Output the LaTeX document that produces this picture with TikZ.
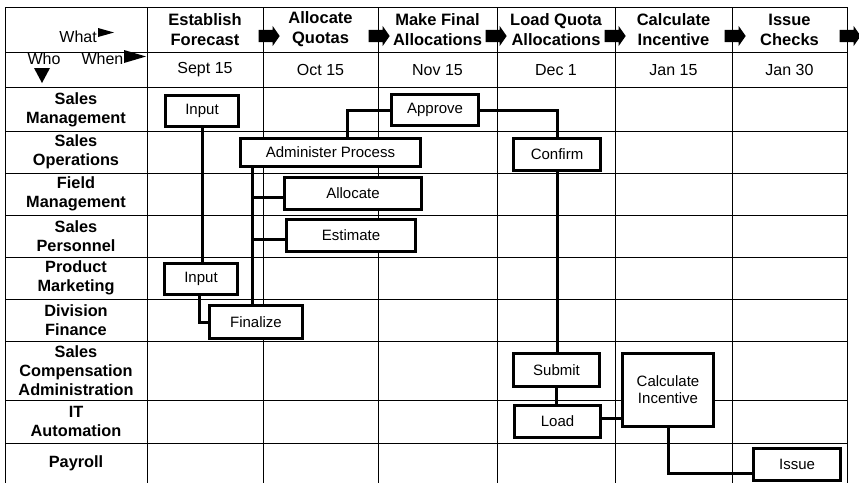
\documentclass[tikz,border=0pt]{standalone}
\usepackage{fontspec}
\setmainfont{Liberation Sans}
\usetikzlibrary{shapes.arrows,calc}

\tikzset{
  grid/.style={line width=0.85pt},
  task/.style={draw, line width=3pt, fill=white, inner sep=0pt, align=center,
    font=\fontsize{15}{17}\selectfont},
  link/.style={line width=3pt},
  head/.style={align=center, font=\bfseries\fontsize{16.5}{20}\selectfont},
  date/.style={font=\fontsize{16}{18}\selectfont},
  who/.style={align=center, font=\bfseries\fontsize{16.3}{19}\selectfont},
  plain/.style={font=\fontsize{16}{18}\selectfont, inner sep=0pt},
  flow/.style={single arrow, fill=black, draw=none, inner xsep=0pt, inner ysep=6pt,
    minimum height=21pt, single arrow head extend=4pt, single arrow tip angle=110,
    single arrow head indent=0pt}
}

\begin{document}
\begin{tikzpicture}[x=1pt,y=-1pt]
\useasboundingbox (0,0) rectangle (859,483);

% Grid
\foreach \gx in {5,147,263,378,497,615,732,847}
  \draw[grid] (\gx,7) -- (\gx,483);
\foreach \gy in {7,52,87,131,173,215,257,299,341,400,443}
  \draw[grid] (5,\gy) -- (847,\gy);

% Corner labels
\node[plain, anchor=east] (what) at (97,37) {What};
\fill (98,28) -- (114,32.5) -- (98,37) -- cycle;
\node[plain] (who) at (44,59) {Who};
\node[plain] (when) at (102.5,59) {When};
\fill (124,50) -- (146,56.5) -- (124,63) -- cycle;
\fill (34,68) -- (50,68) -- (42,83) -- cycle;

% Column heads and dates
\foreach \cx/\what/\when [count=\i] in {205/{Establish\\Forecast}/Sept 15,
    320.5/{Allocate\\Quotas}/Oct 15, 437.5/{Make Final\\Allocations}/Nov 15,
    556/{Load Quota\\Allocations}/Dec 1, 673.5/{Calculate\\Incentive}/Jan 15,
    789.5/{Issue\\Checks}/Jan 30}
{
  \node[head] (what\i) at (\cx,29.5) {\what};
  \node[date] (when\i) at (\cx,70) {\when};
}

% Flow arrows
\foreach \ax [count=\i] in {267,377,494,613,733,848}
  \node[flow] (flow\i) at (\ax,36) {};

% Row labels
\foreach \ry/\who [count=\i] in {109.5/{Sales\\Management}, 152/{Sales\\Operations},
    194/{Field\\Management}, 236/{Sales\\Personnel}, 278/{Product\\Marketing},
    320/{Division\\Finance}, 370.5/{Sales\\Compensation\\Administration},
    421.5/{IT\\Automation}, 463/Payroll}
  \node[who] (who\i) at (76,\ry) {\who};

% Tasks
\node[task, minimum width=73pt, minimum height=31pt] (input1) at (202,111) {Input};
\node[task, minimum width=87pt, minimum height=31pt] (approve) at (435,110) {Approve};
\node[task, minimum width=180pt, minimum height=28pt] (admin) at (330.5,152.5) {Administer Process};
\node[task, minimum width=137pt, minimum height=32pt] (allocate) at (353,193.5) {Allocate};
\node[task, minimum width=129pt, minimum height=32pt] (estimate) at (351,235.5) {Estimate};
\node[task, minimum width=73pt, minimum height=31pt] (input2) at (201,279) {Input};
\node[task, minimum width=93pt, minimum height=33pt] (finalize) at (256,322) {Finalize};
\node[task, minimum width=87pt, minimum height=32pt] (confirm) at (557,154.5) {Confirm};
\node[task, minimum width=86pt, minimum height=33pt] (submit) at (556.5,370) {Submit};
\node[task, minimum width=86pt, minimum height=32pt] (load) at (557.5,421.5) {Load};
\node[task, minimum width=91pt, minimum height=73pt] (calc) at (668,390) {Calculate\\Incentive};
\node[task, minimum width=87pt, minimum height=32pt] (issue) at (797,464.5) {Issue};

% Link ends
\coordinate (spine) at ([xshift=13pt]admin.south west);
\coordinate (allocin) at ([yshift=-4pt]allocate.west);
\coordinate (estin) at ([yshift=-4pt]estimate.west);
\coordinate (loadout) at ([yshift=3pt]load.east);
\coordinate (issuein) at ([yshift=-9pt]issue.west);

% Links
\draw[link] (input1.south) -- (input1.south |- input2.north);
\draw[link] (approve.west) -| ([xshift=16.5pt]admin.north);
\draw[link] (approve.east) -| (confirm.north);
\draw[link] (spine) -- (spine |- finalize.north);
\draw[link] (spine |- allocin) -- (allocin);
\draw[link] (spine |- estin) -- (estin);
\draw[link] ([xshift=-2pt]input2.south) |- (finalize.west);
\draw[link] (confirm.south) -- (confirm.south |- submit.north);
\draw[link] (submit.south) -- (submit.south |- load.north);
\draw[link] (loadout) -- (loadout -| calc.west);
\draw[link] (calc.south) |- (issuein);

\end{tikzpicture}
\end{document}
